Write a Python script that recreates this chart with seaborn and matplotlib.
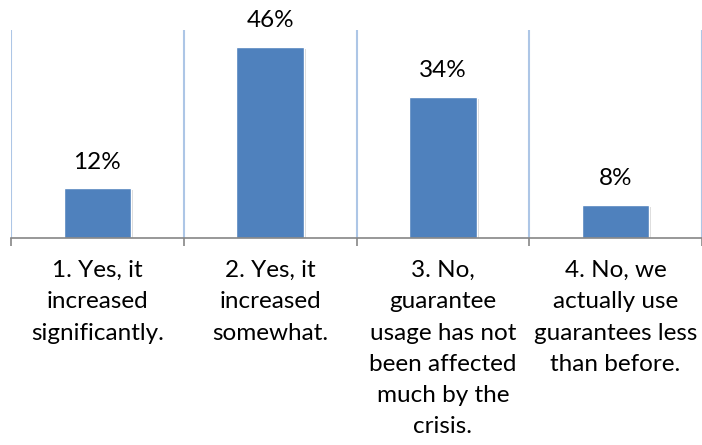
import matplotlib
matplotlib.use("Agg")
import matplotlib.pyplot as plt
import seaborn as sns
import pandas as pd
import matplotlib.patheffects as pe

categories = [
    "1. Yes, it\nincreased\nsignificantly.",
    "2. Yes, it\nincreased\nsomewhat.",
    "3. No,\nguarantee\nusage has not\nbeen affected\nmuch by the\ncrisis.",
    "4. No, we\nactually use\nguarantees less\nthan before.",
]
values = [12, 46, 34, 8]
value_labels = ["12%", "46%", "34%", "8%"]

sns.set_theme(style="white")
plt.rcParams["font.family"] = ["Lato", "DejaVu Sans"]

df = pd.DataFrame({"cat": categories, "val": values})

fig = plt.figure(figsize=(7.02, 4.45), dpi=100)
ax = fig.add_axes([11 / 702, 207 / 445, 691 / 702, 208 / 445])

sns.barplot(data=df, x="cat", y="val", color="#4F81BD", saturation=1,
            width=0.39, ax=ax, zorder=3)
for p in ax.patches:
    p.set_path_effects([pe.SimplePatchShadow(offset=(1.5, -1.5), shadow_rgbFace="#bbbbbb", alpha=0.6), pe.Normal()])

ax.set_xlim(-0.5, 3.5)
ax.set_ylim(0, 50)
ax.set_xlabel("")
ax.set_ylabel("")
ax.set_yticks([])

ax.set_xticks([-0.5, 0.5, 1.5, 2.5, 3.5], minor=True)
ax.tick_params(axis="x", which="minor", length=6, width=1.2, color="#868686", direction="out", bottom=True)
ax.tick_params(axis="x", which="major", length=0, pad=16, labelsize=17.5, labelcolor="black")
ax.grid(False)
for xv in [-0.5, 0.5, 1.5, 2.5, 3.5]:
    ax.axvline(xv, color="#ADC6E6", lw=1.5, zorder=1)

for s in ["top", "right", "left"]:
    ax.spines[s].set_visible(False)
ax.spines["bottom"].set_color("#868686")
ax.spines["bottom"].set_linewidth(1.2)
ax.spines["bottom"].set_zorder(4)

ax.bar_label(ax.containers[0], labels=value_labels, padding=11, fontsize=17.5, color="black")

for lbl in ax.get_xticklabels():
    lbl.set_linespacing(1.6)

fig.savefig("out.png", dpi=100)
